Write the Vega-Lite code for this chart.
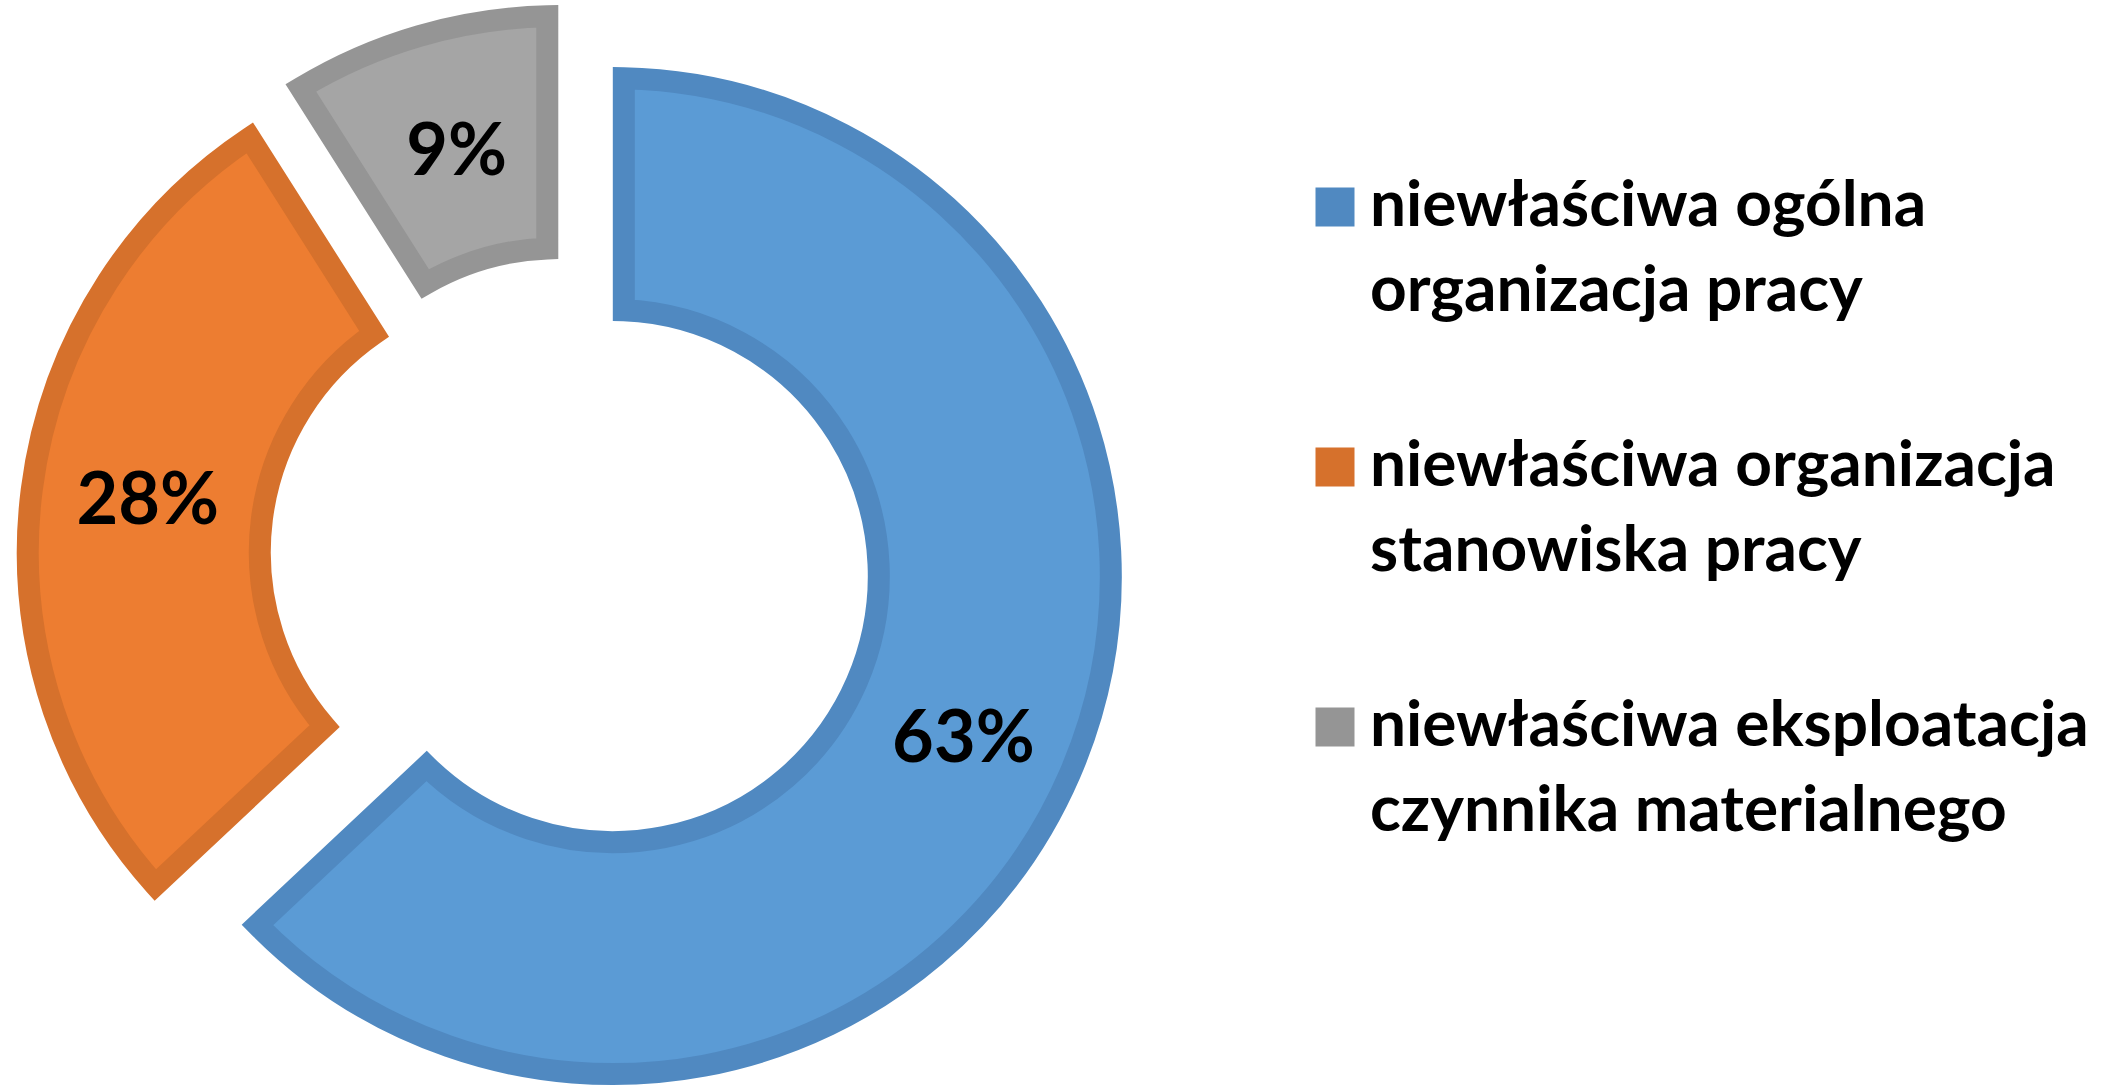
{
  "$schema": "https://vega.github.io/schema/vega-lite/v6.json",
  "width": 2113,
  "height": 1087,
  "padding": 0,
  "autosize": {"type": "none"},
  "background": "white",
  "config": {"view": {"stroke": null}},
  "data": {
    "values": [
      {"cat": "niewłaściwa ogólna\norganizacja pracy", "pct": 0.63, "k": 1},
      {"cat": "niewłaściwa organizacja\nstanowiska pracy", "pct": 0.28, "k": 2},
      {"cat": "niewłaściwa eksploatacja\nczynnika materialnego", "pct": 0.09, "k": 3}
    ]
  },
  "encoding": {
    "theta": {"field": "pct", "type": "quantitative", "stack": true},
    "order": {"field": "k", "type": "quantitative"},
    "fill": {
      "field": "cat", "type": "nominal",
      "scale": {
        "domain": ["niewłaściwa ogólna\norganizacja pracy", "niewłaściwa organizacja\nstanowiska pracy", "niewłaściwa eksploatacja\nczynnika materialnego"],
        "range": ["#5B9BD5", "#ED7D31", "#A5A5A5"]
      },
      "legend": {
        "title": null, "orient": "none", "legendX": 1303, "legendY": 175, "padding": 0,
        "symbolType": "square", "symbolSize": 361, "symbolStrokeWidth": 20, "symbolOpacity": 1,
        "labelFont": "Lato", "labelFontSize": 64, "labelFontWeight": "bold", "labelColor": "#000000",
        "labelLimit": 2000, "labelOffset": 3, "rowPadding": 93,
        "labelExpr": "split(datum.label, '\\n')",
        "encode": {"labels": {"update": {"lineHeight": {"value": 85}}}}
      }
    },
    "stroke": {
      "field": "cat", "type": "nominal",
      "scale": {
        "domain": ["niewłaściwa ogólna\norganizacja pracy", "niewłaściwa organizacja\nstanowiska pracy", "niewłaściwa eksploatacja\nczynnika materialnego"],
        "range": ["#5089C1", "#D6712C", "#959595"]
      },
      "legend": {
        "title": null, "orient": "none", "legendX": 1303, "legendY": 175, "padding": 0,
        "symbolType": "square", "symbolSize": 361, "symbolStrokeWidth": 20, "symbolOpacity": 1,
        "labelFont": "Lato", "labelFontSize": 64, "labelFontWeight": "bold", "labelColor": "#000000",
        "labelLimit": 2000, "labelOffset": 3, "rowPadding": 93,
        "labelExpr": "split(datum.label, '\\n')",
        "encode": {"labels": {"update": {"lineHeight": {"value": 85}}}}
      }
    }
  },
  "layer": [
    {
      "mark": {"type": "arc", "radius": 498, "radius2": 266, "strokeWidth": 22, "padAngle": 0.039, "xOffset": -443.7, "yOffset": 32.6},
      "encoding": {"opacity": {"condition": {"test": "datum.k == 1", "value": 1}, "value": 0}}
    },
    {
      "mark": {"type": "arc", "radius": 498, "radius2": 266, "strokeWidth": 22, "padAngle": 0.039, "xOffset": -530.7, "yOffset": 8.8},
      "encoding": {"opacity": {"condition": {"test": "datum.k == 2", "value": 1}, "value": 0}}
    },
    {
      "mark": {"type": "arc", "radius": 498, "radius2": 266, "strokeWidth": 22, "padAngle": 0.039, "xOffset": -498.2, "yOffset": -29.3},
      "encoding": {"opacity": {"condition": {"test": "datum.k == 3", "value": 1}, "value": 0}}
    },
    {
      "mark": {"type": "text", "radius": 382, "font": "Lato", "fontSize": 72, "fontWeight": "bold", "align": "center", "baseline": "middle", "strokeWidth": 0, "xOffset": -443.7, "yOffset": 45},
      "encoding": {
        "text": {"field": "pct", "type": "quantitative", "format": ".0%"},
        "fill": {"value": "#000000"},
        "stroke": {"value": "transparent"},
        "opacity": {"condition": {"test": "datum.k == 1", "value": 1}, "value": 0}
      }
    },
    {
      "mark": {"type": "text", "radius": 382, "font": "Lato", "fontSize": 72, "fontWeight": "bold", "align": "center", "baseline": "middle", "strokeWidth": 0, "xOffset": -529.7, "yOffset": 6.5},
      "encoding": {
        "text": {"field": "pct", "type": "quantitative", "format": ".0%"},
        "fill": {"value": "#000000"},
        "stroke": {"value": "transparent"},
        "opacity": {"condition": {"test": "datum.k == 2", "value": 1}, "value": 0}
      }
    },
    {
      "mark": {"type": "text", "radius": 382, "font": "Lato", "fontSize": 72, "fontWeight": "bold", "align": "center", "baseline": "middle", "strokeWidth": 0, "xOffset": -493.2, "yOffset": -23.5},
      "encoding": {
        "text": {"field": "pct", "type": "quantitative", "format": ".0%"},
        "fill": {"value": "#000000"},
        "stroke": {"value": "transparent"},
        "opacity": {"condition": {"test": "datum.k == 3", "value": 1}, "value": 0}
      }
    }
  ]
}
